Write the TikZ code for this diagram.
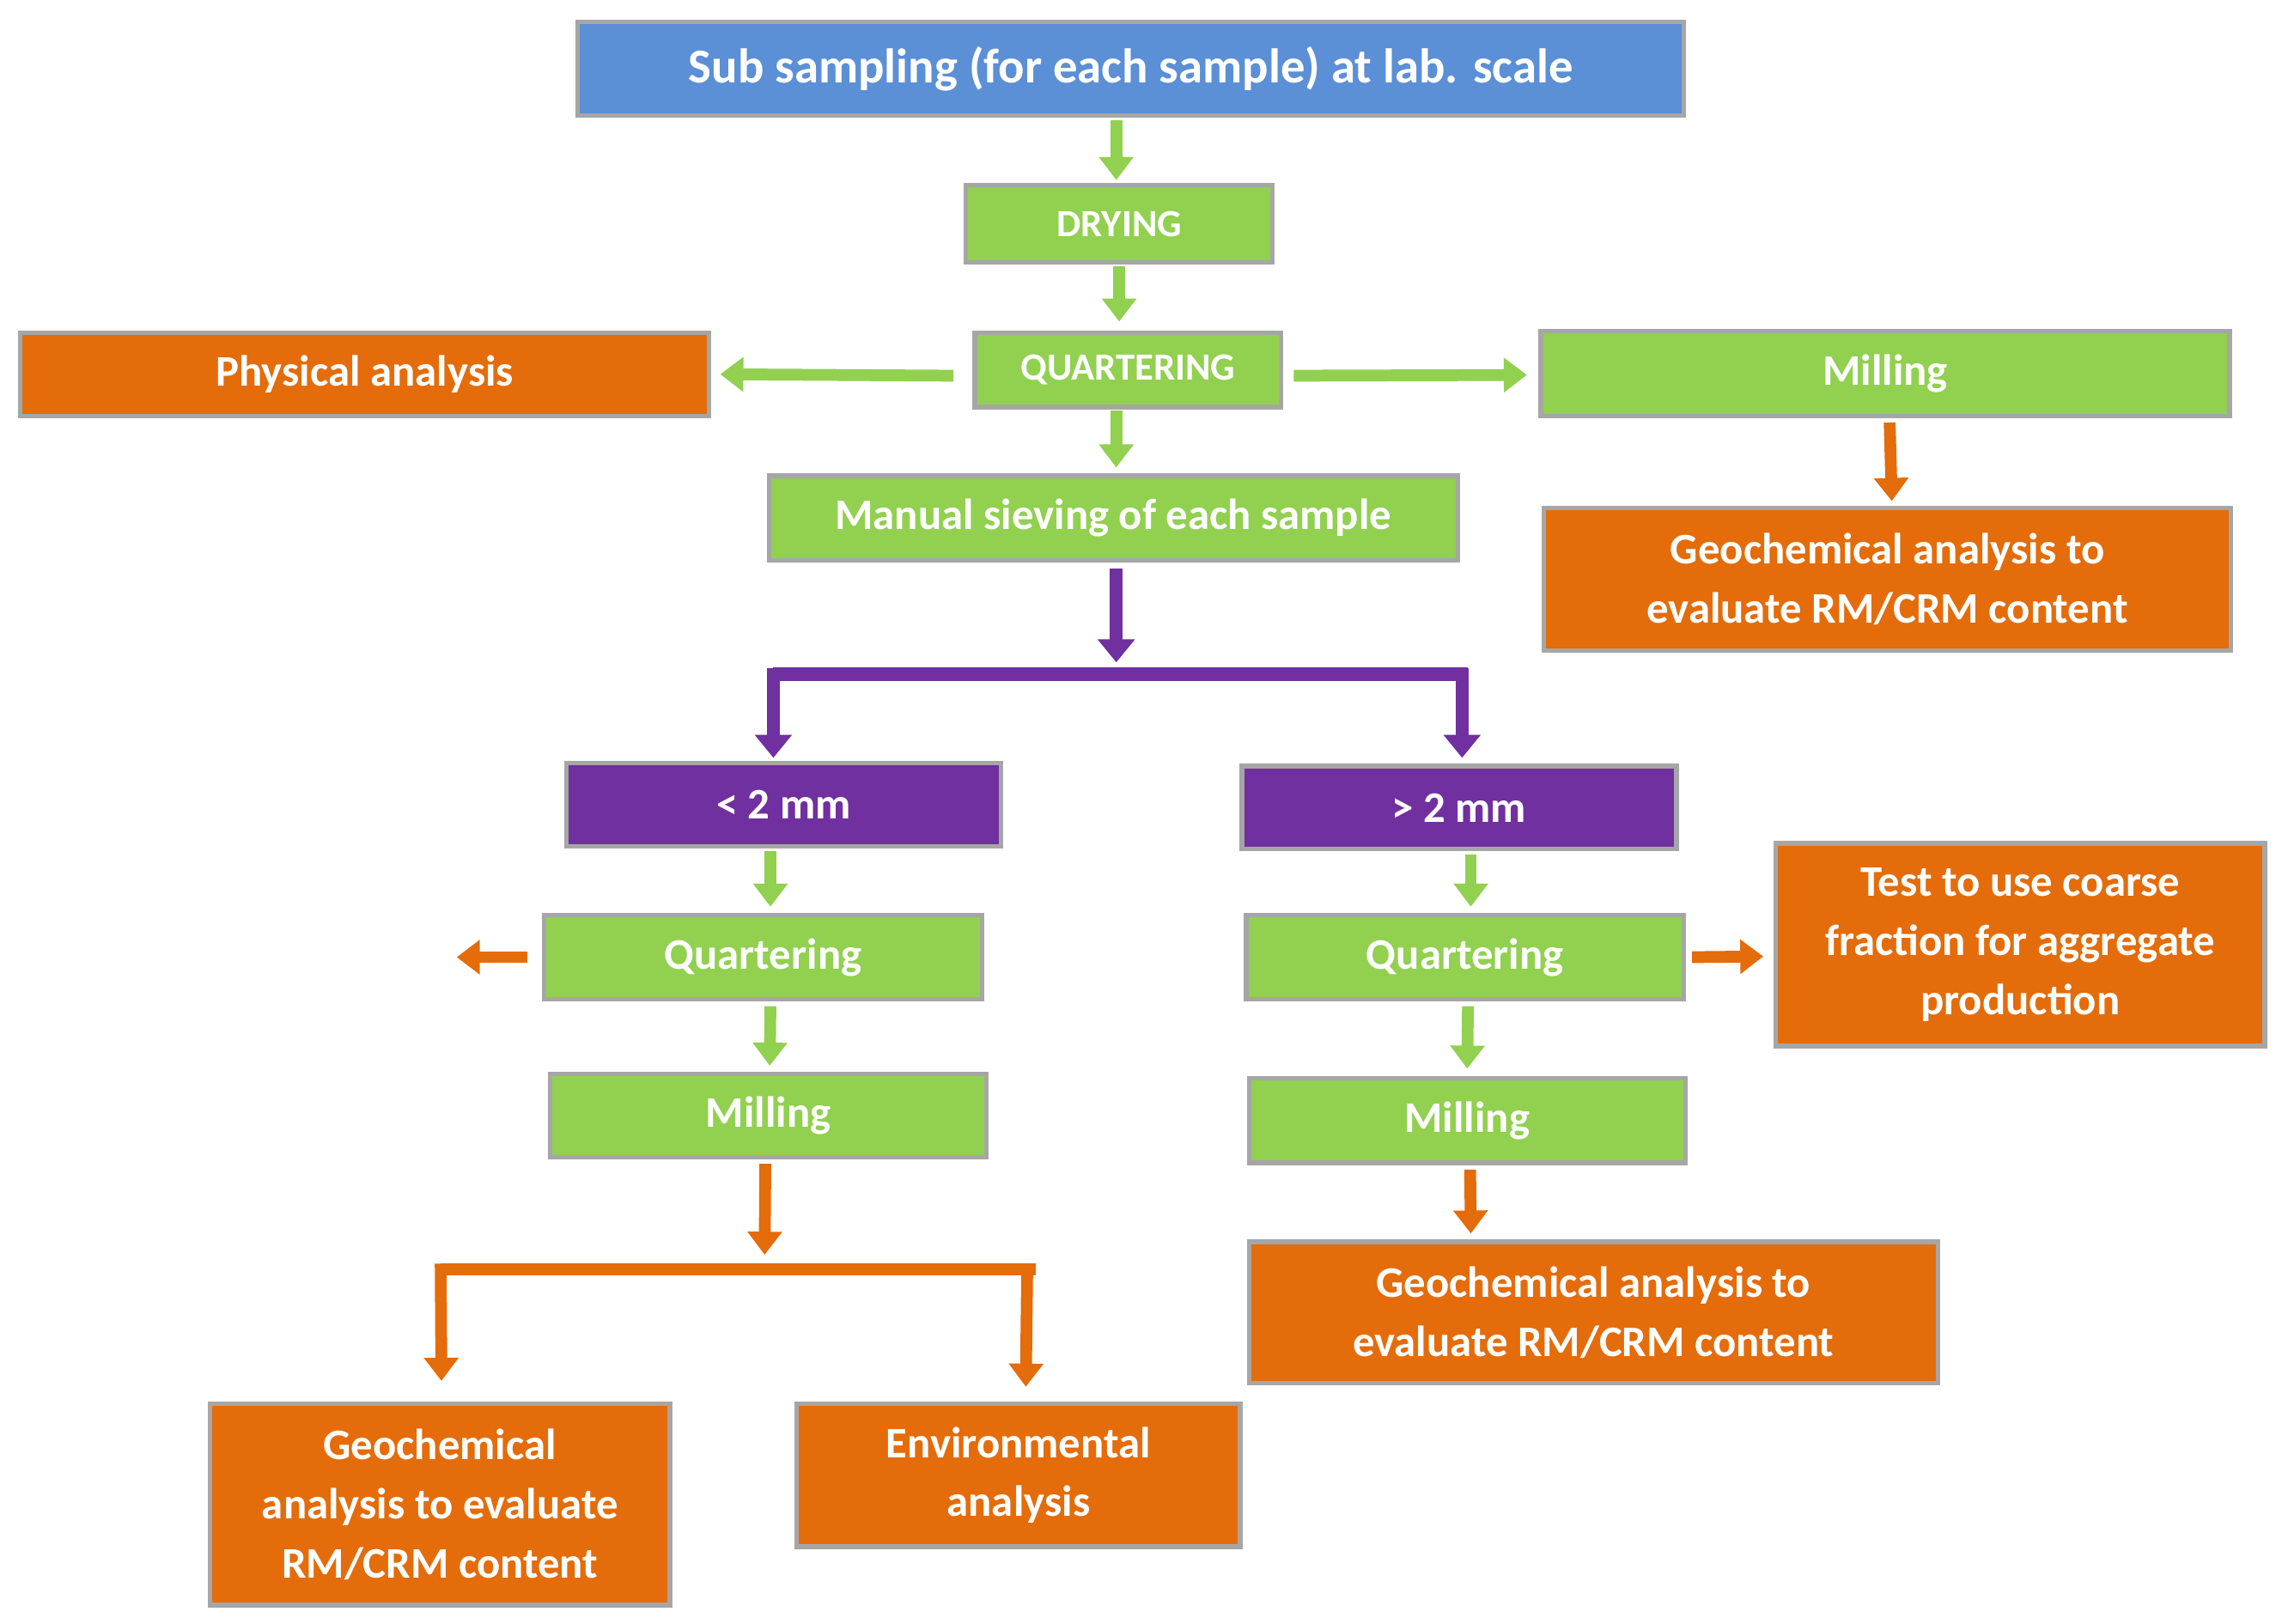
\documentclass[tikz,border=0pt]{standalone}
\usepackage{fontspec}
\setmainfont{Carlito}
\usetikzlibrary{arrows.meta}
\definecolor{gr}{HTML}{92D050}
\definecolor{bl}{HTML}{5B8FD6}
\definecolor{og}{HTML}{E46C0A}
\definecolor{pu}{HTML}{7030A0}
\definecolor{bd}{HTML}{A6A6A6}
\begin{document}
\begin{tikzpicture}[x=0.01cm,y=-0.01cm,
 box/.style={draw=bd,line width=0.9pt,text=white,font=\fontsize{8.5}{11.5}\selectfont\bfseries,align=center,inner sep=0pt},
 ga/.style={draw=gr,line width=2.3pt,-{Triangle[width=6.5pt,length=4.5pt]}},
 oa/.style={draw=og,line width=2.3pt,-{Triangle[width=6.5pt,length=4.5pt]}},
 pa/.style={draw=pu,line width=2.6pt,-{Triangle[width=7pt,length=4.5pt]}},
 ol/.style={draw=og,line width=2.3pt},
 pl/.style={draw=pu,line width=2.6pt}]
\useasboundingbox (0,0) rectangle (1568,1112.5);
\newcommand{\bx}[7]{\node[box,fill=#6,minimum width={(#4-#2)*0.01cm},minimum height={(#5-#3)*0.01cm}] (#1) at ({(#2+#4)/2},{(#3+#5)/2}) {#7};}
\newcommand{\sh}[3]{[shift={(#1,#2)}]#3}
\bx{top}{396}{15}{1154}{79}{bl}{\fontsize{9.5}{12}\selectfont Sub sampling (for each sample) at lab. scale}
\bx{dry}{662}{127}{872}{180}{gr}{\fontsize{7.5}{9}\selectfont DRYING}
\bx{qu}{668}{228}{878}{279}{gr}{\fontsize{7.5}{9}\selectfont QUARTERING}
\bx{phys}{14}{228}{486}{285}{og}{Physical analysis}
\bx{mill}{1056}{227}{1528}{285}{gr}{Milling}
\bx{geo}{1058}{348}{1529}{446}{og}{Geochemical analysis to\\evaluate RM/CRM content}
\bx{man}{527}{326}{999}{384}{gr}{Manual sieving of each sample}
\bx{lt}{388}{523}{686}{580}{pu}{< 2 mm}
\bx{gt}{851}{525}{1149}{582}{pu}{> 2 mm}
\bx{ql}{373}{627}{673}{685}{gr}{Quartering}
\bx{qr}{854}{627}{1154}{685}{gr}{Quartering}
\bx{test}{1217}{578}{1552}{717}{og}{Test to use coarse\\fraction for aggregate\\production}
\bx{ml}{377}{736}{676}{793}{gr}{Milling}
\bx{mr}{856}{739}{1155}{797}{gr}{Milling}
\bx{geor}{856}{851}{1328}{948}{og}{Geochemical analysis to\\evaluate RM/CRM content}
\bx{geol}{144}{962}{459}{1100}{og}{Geochemical\\analysis to evaluate\\RM/CRM content}
\bx{env}{546}{962}{850}{1060}{og}{Environmental\\analysis}
\coordinate (lf) at (313,656);
\coordinate (ps) at (765,462);
\coordinate (os) at (524,870);
% top -> drying (765,80)->(765,125)
\draw[ga] ([shift={(-10,2)}]top.south) -- ([shift={(-2,-2)}]dry.north);
\draw[ga] ([shift={(0,1)}]dry.south) -- ([shift={(-6,-6)}]qu.north);
\draw[ga] ([shift={(-13,4)}]qu.west) -- ([shift={(6,0)}]phys.east);
\draw[ga] ([shift={(7,4)}]qu.east) -- ([shift={(-8,1)}]mill.west);
\draw[ga] ([shift={(-8,1)}]qu.south) -- ([shift={(2,-4)}]man.north);
\draw[oa] ([shift={(3,3)}]mill.south) -- ([shift={(3,-3)}]geo.north);
\draw[pa] ([shift={(2,4)}]man.south) -- ([shift={(0,-8)}]ps);
\draw[pl] ([shift={(-235,0)}]ps) -- ([shift={(241,0)}]ps);
\draw[pa] ([shift={(-235,-4)}]ps) -- ([shift={(-7,-2)}]lt.north);
\draw[pa] ([shift={(237,-4)}]ps) -- ([shift={(2,-4)}]gt.north);
\draw[ga] ([shift={(-9,2)}]lt.south) -- ([shift={(5,-4)}]ql.north);
\draw[ga] ([shift={(8,2)}]gt.south) -- ([shift={(4,-4)}]qr.north);
\draw[oa] ([shift={(-10,0)}]ql.west) -- (lf);
\draw[oa] ([shift={(4,0)}]qr.east) -- ([shift={(-7,8)}]test.west);
\draw[ga] ([shift={(5,3)}]ql.south) -- ([shift={(1,-4)}]ml.north);
\draw[ga] ([shift={(2,3)}]qr.south) -- ([shift={(0,-5)}]mr.north);
\draw[oa] ([shift={(2,3)}]mr.south) -- ([shift={(-84,-4)}]geor.north);
\draw[oa] ([shift={(-2,3)}]ml.south) -- ([shift={(0,-10)}]os);
\draw[ol] ([shift={(-222,0)}]os) -- ([shift={(186,0)}]os);
\draw[oa] ([shift={(-222,-4)}]os) -- ([shift={(1,-14)}]geol.north);
\draw[oa] ([shift={(180,-4)}]os) -- ([shift={(5,-10)}]env.north);
\end{tikzpicture}
\end{document}
